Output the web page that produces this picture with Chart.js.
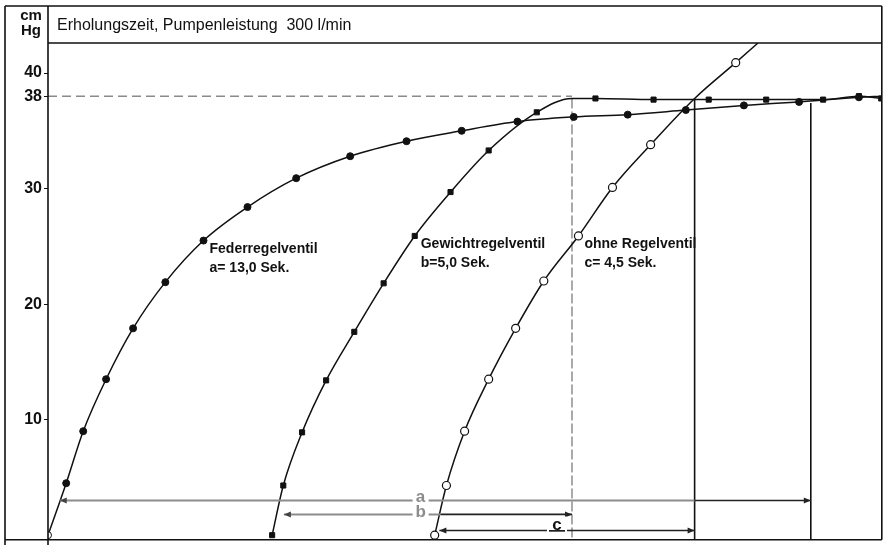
<!DOCTYPE html>
<html>
<head>
<meta charset="utf-8">
<script src="https://cdn.jsdelivr.net/npm/chart.js@4.4.1/dist/chart.umd.min.js"></script>
<style>
  html, body { margin: 0; padding: 0; background: #fff; }
  #wrap { width: 887px; height: 545px; }
</style>
</head>
<body>
<div id="wrap"><canvas id="myChart" width="887" height="545"></canvas></div>
<script>
// Zeit in Sekunden (x), Vakuum in cm Hg (y)
const federX = [0, 0.31, 0.60, 0.99, 1.45, 2.00, 2.65, 3.40, 4.23, 5.15, 6.11, 7.05, 8.00, 8.96, 9.88, 10.87, 11.86, 12.80, 13.82, 14.21];
const federY = [0, 4.5, 9.0, 13.5, 17.9, 21.9, 25.5, 28.4, 30.9, 32.8, 34.1, 35.0, 35.8, 36.2, 36.4, 36.8, 37.2, 37.5, 37.9, 38.0];
const gewichtX = [3.82, 4.01, 4.33, 4.74, 5.22, 5.72, 6.25, 6.86, 7.51, 8.33, 8.93, 9.33, 10.32, 11.26, 12.24, 13.21, 13.82, 14.2];
const gewichtY = [0, 4.3, 8.9, 13.4, 17.6, 21.8, 25.9, 29.7, 33.3, 36.6, 37.8, 37.8, 37.7, 37.7, 37.7, 37.7, 38.0, 37.8];
const ohneX = [6.59, 6.79, 7.10, 7.51, 7.97, 8.45, 9.04, 9.62, 10.27, 11.02, 11.72, 12.10];
const ohneY = [0, 4.3, 9.0, 13.5, 17.9, 22.0, 25.9, 30.1, 33.8, 37.8, 40.9, 42.6];

const yTicks = [10, 20, 30, 38, 40];

// Erholungszeiten: Start, Ende
const startA = 0, endA = 13.0;
const startB = 3.82, endB = 8.93;
const startC = 6.59, endC = 11.02;

const titel = "Erholungszeit, Pumpenleistung  300 l/min";
const font = "'Liberation Sans', Arial, sans-serif";

const toPts = (xs, ys) => xs.map((v, i) => ({ x: v, y: ys[i] }));

const overlay = {
  id: "overlay",
  beforeDatasetsDraw(chart) {
    const { ctx, chartArea: ca, scales: { x, y } } = chart;
    const px = (v) => x.getPixelForValue(v);
    const py = (v) => y.getPixelForValue(v);
    ctx.save();
    // 38er Linie
    ctx.strokeStyle = "#8a8a8a";
    ctx.lineWidth = 1.5;
    ctx.setLineDash([9, 5]);
    ctx.beginPath();
    ctx.moveTo(ca.left, py(38));
    ctx.lineTo(px(endB), py(38));
    ctx.stroke();
    // senkrechte Linien
    ctx.strokeStyle = "#555";
    ctx.lineWidth = 1;
    ctx.setLineDash([10, 3]);
    ctx.beginPath();
    ctx.moveTo(px(endB), py(37.8));
    ctx.lineTo(px(endB), ca.bottom);
    ctx.stroke();
    ctx.setLineDash([]);
    ctx.strokeStyle = "#111";
    ctx.lineWidth = 1.6;
    ctx.beginPath();
    ctx.moveTo(px(endC), py(37.8));
    ctx.lineTo(px(endC), ca.bottom);
    ctx.moveTo(px(endA), py(37.4));
    ctx.lineTo(px(endA), ca.bottom);
    ctx.stroke();
    ctx.restore();
  },
  afterDatasetsDraw(chart) {
    const { ctx, chartArea: ca, scales: { x, y } } = chart;
    const px = (v) => x.getPixelForValue(v);
    const py = (v) => y.getPixelForValue(v);
    ctx.save();

    const seg = (x1, x2, yy, color, w) => {
      ctx.strokeStyle = color;
      ctx.lineWidth = w;
      ctx.beginPath();
      ctx.moveTo(x1, yy);
      ctx.lineTo(x2, yy);
      ctx.stroke();
    };
    const arrow = (xt, yy, dir, color) => {
      ctx.fillStyle = color;
      ctx.beginPath();
      ctx.moveTo(xt, yy);
      ctx.lineTo(xt - dir * 7, yy - 3);
      ctx.lineTo(xt - dir * 7, yy + 3);
      ctx.closePath();
      ctx.fill();
    };

    // Masslinie a
    const ya = py(3.0);
    seg(px(startA + 0.2), px(endC), ya, "#8c8c8c", 2);
    seg(px(endC), px(endA), ya, "#222", 1.6);
    arrow(px(startA + 0.2), ya, -1, "#444");
    arrow(px(endA), ya, 1, "#222");
    // Masslinie b
    const yb = py(1.8);
    seg(px(startB + 0.2), px(startC + 0.1), yb, "#8c8c8c", 2);
    seg(px(startC + 0.1), px(endB), yb, "#222", 1.6);
    arrow(px(startB + 0.2), yb, -1, "#444");
    arrow(px(endB), yb, 1, "#222");
    // Masslinie c
    const yc = py(0.4);
    seg(px(startC + 0.08), px(endC), yc, "#222", 1.6);
    arrow(px(startC + 0.08), yc, -1, "#222");
    arrow(px(endC), yc, 1, "#222");

    // Buchstaben
    ctx.font = "bold 17px " + font;
    ctx.textAlign = "center";
    ctx.textBaseline = "alphabetic";
    const xm = px(6.35);
    ctx.fillStyle = "#fff";
    ctx.fillRect(xm - 8, ya - 14, 16, 30);
    ctx.fillStyle = "#8c8c8c";
    ctx.fillText("a", xm, ya + 1);
    ctx.fillText("b", xm, yb + 3);
    const xcL = px(endB) - 15;
    ctx.fillStyle = "#fff";
    ctx.fillRect(xcL - 10, yc - 14, 20, 16);
    ctx.fillStyle = "#111";
    ctx.fillText("c", xcL, yc - 1);
    ctx.fillRect(xcL - 8, yc - 0.5, 16, 1.6);

    // Kurvenbeschriftung
    ctx.font = "bold 14px " + font;
    ctx.textAlign = "left";
    ctx.fillStyle = "#111";
    const label = (xs, ys, l1, l2) => {
      const lx = px(xs[6]) + 6;
      const ly = py(ys[6]) + 12;
      ctx.fillText(l1, lx, ly);
      ctx.fillText(l2, lx, ly + 19);
    };
    label(federX, federY, "Federregelventil", "a= 13,0 Sek.");
    label(gewichtX, gewichtY, "Gewichtregelventil", "b=5,0 Sek.");
    label(ohneX, ohneY, "ohne Regelventil", "c= 4,5 Sek.");

    // Rahmen und Titelfeld
    ctx.strokeStyle = "#111";
    ctx.lineWidth = 1.6;
    ctx.beginPath();
    ctx.moveTo(5, 6); ctx.lineTo(ca.right, 6);
    ctx.moveTo(5, 6); ctx.lineTo(5, 545);
    ctx.moveTo(ca.left, 6); ctx.lineTo(ca.left, 545);
    ctx.moveTo(ca.right, 6); ctx.lineTo(ca.right, ca.bottom);
    ctx.moveTo(ca.left, ca.top); ctx.lineTo(ca.right, ca.top);
    ctx.moveTo(5, ca.bottom); ctx.lineTo(ca.right, ca.bottom);
    ctx.stroke();

    ctx.font = "16px " + font;
    ctx.fillStyle = "#111";
    ctx.fillText(titel, ca.left + 9, 30);

    ctx.font = "bold 15px " + font;
    ctx.textAlign = "center";
    ctx.fillText("cm", 31, 20);
    ctx.fillText("Hg", 31, 35);
    ctx.restore();
  }
};

const ctx = document.getElementById("myChart");

new Chart(ctx, {
  type: "scatter",
  data: {
    datasets: [
      {
        label: "Federregelventil",
        data: toPts(federX, federY),
        showLine: true,
        borderColor: "#111",
        borderWidth: 1.5,
        cubicInterpolationMode: "monotone",
        pointStyle: "circle",
        pointRadius: federX.map((v, i) => (i === federX.length - 1 ? 0 : 3.5)),
        pointBackgroundColor: federX.map((v, i) => (i === 0 ? "#fff" : "#111")),
        pointBorderColor: "#111",
        pointBorderWidth: 1,
      },
      {
        label: "Gewichtregelventil",
        data: toPts(gewichtX, gewichtY),
        showLine: true,
        borderColor: "#111",
        borderWidth: 1.5,
        cubicInterpolationMode: "monotone",
        pointStyle: "rect",
        pointRadius: gewichtX.map((v, i) => (i === 10 ? 0 : 3.6)),
        pointBackgroundColor: "#111",
        pointBorderColor: "#111",
        pointBorderWidth: 1,
      },
      {
        label: "ohne Regelventil",
        data: toPts(ohneX, ohneY),
        showLine: true,
        borderColor: "#111",
        borderWidth: 1.5,
        cubicInterpolationMode: "monotone",
        pointStyle: "circle",
        pointRadius: ohneX.map((v, i) => (i === 9 || i === ohneX.length - 1 ? 0 : 4)),
        pointBackgroundColor: "#fff",
        pointBorderColor: "#111",
        pointBorderWidth: 1.2,
      },
    ],
  },
  options: {
    responsive: false,
    animation: false,
    layout: { padding: { top: 43, right: 5, bottom: 4, left: 0 } },
    plugins: {
      legend: { display: false },
      tooltip: { enabled: false },
    },
    scales: {
      x: { type: "linear", min: 0, max: 14.21, display: false },
      y: {
        min: -0.4,
        max: 42.6,
        afterFit(scale) {
          scale.width = 48;
          scale.paddingTop = 0;
          scale.paddingBottom = 0;
        },
        afterBuildTicks(scale) {
          scale.ticks = yTicks.map((v) => ({ value: v }));
        },
        grid: { drawOnChartArea: false, tickLength: 4, color: "#111" },
        border: { display: false },
        ticks: {
          autoSkip: false,
          color: "#111",
          padding: 2,
          font: { family: "'Liberation Sans', Arial, sans-serif", size: 16, weight: "bold" },
        },
      },
    },
  },
  plugins: [overlay],
});
</script>
</body>
</html>
